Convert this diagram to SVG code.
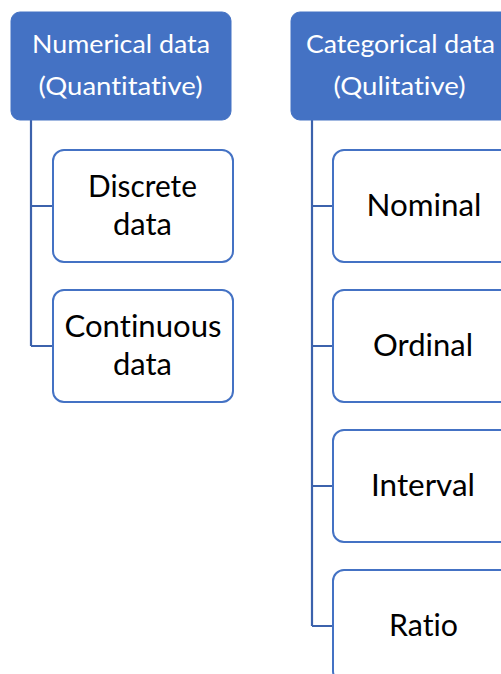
<svg xmlns="http://www.w3.org/2000/svg" width="501" height="674" viewBox="0 0 501 674">
<style>
.hdr{fill:#4472C4;stroke:#4472C4;stroke-width:1}
.child{fill:#FFFFFF;stroke:#4472C4;stroke-width:2}
.ht,.ct{font-family:Lato,"Liberation Sans",sans-serif;text-anchor:middle;font-variant-ligatures:none;font-feature-settings:"liga" 0,"clig" 0}
.ht{font-size:25px;fill:#FFFFFF}
.ct{font-size:30px;fill:#000000}
.conn{fill:none;stroke:#3C62AC;stroke-width:2.2}
</style>
<rect width="501" height="674" fill="#FFFFFF"/>
<g id="connectors">
<path class="conn" d="M31,120 V346 M31,206 H53 M31,346 H53"/>
<path class="conn" d="M312,120 V626 M312,206 H333 M312,346 H333 M312,486 H333 M312,626 H333"/>
</g>
<g id="numerical">
<rect class="hdr" x="11" y="12" width="220" height="108" rx="9"/>
<text class="ht" x="121" y="53" textLength="178" lengthAdjust="spacingAndGlyphs">Numerical data</text>
<text class="ht" x="120.5" y="95" textLength="164" lengthAdjust="spacingAndGlyphs">(Quantitative)</text>
</g>
<g id="categorical">
<rect class="hdr" x="291" y="12" width="220" height="108" rx="9"/>
<text class="ht" x="400.5" y="53" textLength="189" lengthAdjust="spacingAndGlyphs">Categorical data</text>
<text class="ht" x="399.5" y="95" textLength="132" lengthAdjust="spacingAndGlyphs">(Qulitative)</text>
</g>
<g id="discrete">
<rect class="child" x="53" y="150" width="180" height="112" rx="11"/>
<text class="ct" x="142.5" y="197" textLength="109" lengthAdjust="spacingAndGlyphs">Discrete</text>
<text class="ct" x="142.5" y="235" textLength="59" lengthAdjust="spacingAndGlyphs">data</text>
</g>
<g id="continuous">
<rect class="child" x="53" y="290" width="180" height="112" rx="11"/>
<text class="ct" x="143" y="337" textLength="157" lengthAdjust="spacingAndGlyphs">Continuous</text>
<text class="ct" x="142.5" y="375" textLength="59" lengthAdjust="spacingAndGlyphs">data</text>
</g>
<g id="nominal">
<rect class="child" x="333" y="150" width="180" height="112" rx="11"/>
<text class="ct" x="424" y="216" textLength="115" lengthAdjust="spacingAndGlyphs">Nominal</text>
</g>
<g id="ordinal">
<rect class="child" x="333" y="290" width="180" height="112" rx="11"/>
<text class="ct" x="423" y="356" textLength="100" lengthAdjust="spacingAndGlyphs">Ordinal</text>
</g>
<g id="interval">
<rect class="child" x="333" y="430" width="180" height="112" rx="11"/>
<text class="ct" x="423" y="496" textLength="104" lengthAdjust="spacingAndGlyphs">Interval</text>
</g>
<g id="ratio">
<rect class="child" x="333" y="570" width="180" height="112" rx="11"/>
<text class="ct" x="423.5" y="636" textLength="69" lengthAdjust="spacingAndGlyphs">Ratio</text>
</g>
</svg>
